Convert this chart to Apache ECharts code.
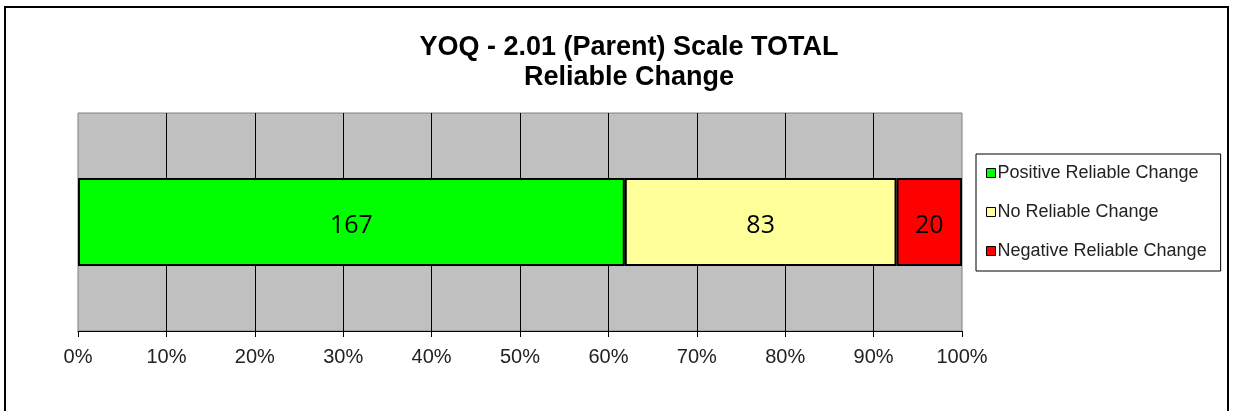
<!DOCTYPE html>
<html>
<head>
<meta charset="utf-8">
<script src="https://cdn.jsdelivr.net/npm/echarts@6/dist/echarts.min.js"></script>
<style>html,body{margin:0;padding:0;background:#fff}#c{width:1233px;height:411px}</style>
</head>
<body>
<div id="c"></div>
<script>
const categories = ['TOTAL'];
const seriesNames = ['Positive Reliable Change', 'No Reliable Change', 'Negative Reliable Change'];
const seriesValues = [[167], [83], [20]];
const seriesColors = ['#00FF00', '#FFFF99', '#FF0000'];
const tickLabels = ['0%','10%','20%','30%','40%','50%','60%','70%','80%','90%','100%'];

const totals = categories.map((c, i) => seriesValues.reduce((s, v) => s + v[i], 0));

const chart = echarts.init(document.getElementById('c'), null, {renderer: 'canvas'});
chart.setOption({
  animation: false,
  backgroundColor: '#fff',
  title: {
    text: 'YOQ - 2.01 (Parent) Scale TOTAL\nReliable Change',
    left: 624, top: 28, textAlign: 'center',
    textStyle: {fontFamily: 'Liberation Sans', fontWeight: 'bold', fontSize: 27, color: '#000', lineHeight: 30}
  },
  graphic: [{
    type: 'rect', silent: true,
    shape: {x: 5, y: 7, width: 1223, height: 420},
    style: {fill: 'none', stroke: '#000', lineWidth: 2}
  }],
  legend: {
    orient: 'vertical', left: 976, top: 154,
    data: seriesNames,
    icon: 'rect', itemWidth: 9, itemHeight: 9, itemGap: 21,
    padding: [10, 14, 11, 10],
    borderColor: '#000', borderWidth: 1,
    itemStyle: {borderColor: '#000', borderWidth: 1},
    textStyle: {fontFamily: 'Liberation Sans', fontSize: 18, color: '#222', padding: [0,0,0,-3]}
  },
  grid: {
    left: 78, right: 271, top: 113, bottom: 80,
    show: true, backgroundColor: '#C0C0C0', borderColor: '#808080', borderWidth: 1
  },
  xAxis: {
    type: 'value', min: 0, max: 1, interval: 0.1,
    axisLine: {show: true, lineStyle: {color: '#000', width: 1}},
    axisTick: {show: true, length: 6, lineStyle: {color: '#000'}},
    axisLabel: {
      margin: 16, color: '#222', fontFamily: 'Liberation Sans', fontSize: 20,
      formatter: (v) => tickLabels[Math.round(v * 10)]
    },
    splitLine: {show: true, showMinLine: false, showMaxLine: false, lineStyle: {color: '#000', width: 1}}
  },
  yAxis: {
    type: 'category', data: categories,
    axisLine: {show: false}, axisTick: {show: false}, axisLabel: {show: false}
  },
  series: seriesNames.map((name, si) => ({
    name: name, type: 'bar', stack: 'all', barWidth: 88,
    data: seriesValues[si].map((v, i) => ({value: v / totals[i], raw: v})),
    itemStyle: {color: seriesColors[si], borderColor: '#000', borderWidth: 2},
    label: {
      show: true, position: 'inside', color: '#000', offset: [0, 4],
      fontFamily: 'Open Sans', fontSize: 25,
      formatter: (p) => String(p.data.raw)
    }
  }))
});
</script>
</body>
</html>
